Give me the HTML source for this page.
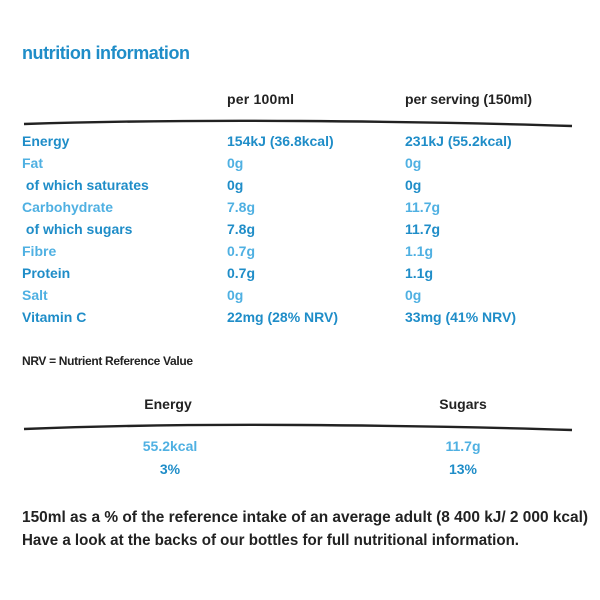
<!DOCTYPE html>
<html><head><meta charset="utf-8"><style>
body{margin:0;background:#fff}
svg{display:block}
text{font-family:"Liberation Sans",sans-serif;font-weight:bold}
.d{fill:#1f8dc8}.l{fill:#4fb0e2}.k{fill:#222}
</style></head><body>
<svg width="600" height="600" viewBox="0 0 600 600">
<text x="22" y="59" font-size="18" class="d" textLength="168">nutrition information</text>
<text x="227" y="104" font-size="14" class="k" textLength="67">per 100ml</text>
<text x="405" y="104" font-size="14" class="k" textLength="127">per serving (150ml)</text>
<path d="M24 124 Q150 120 300 121 T572 126" stroke="#222" stroke-width="2.4" fill="none"/>
<g id="rows"></g>
<text x="22" y="365" font-size="12" class="k" textLength="171">NRV = Nutrient Reference Value</text>
<text x="168" y="409" font-size="14" class="k" text-anchor="middle">Energy</text>
<text x="463" y="409" font-size="14" class="k" text-anchor="middle">Sugars</text>
<path d="M24 429 Q150 424 300 425 T572 430" stroke="#222" stroke-width="2.4" fill="none"/>
<text x="170" y="451" font-size="14" class="l" text-anchor="middle">55.2kcal</text>
<text x="170" y="474" font-size="14" class="d" text-anchor="middle">3%</text>
<text x="463" y="451" font-size="14" class="l" text-anchor="middle">11.7g</text>
<text x="463" y="474" font-size="14" class="d" text-anchor="middle">13%</text>
<text x="22" y="522" font-size="15.5" class="k" textLength="566" lengthAdjust="spacingAndGlyphs">150ml as a % of the reference intake of an average adult (8 400 kJ/ 2 000 kcal)</text>
<text x="22" y="545" font-size="15.5" class="k" textLength="497" lengthAdjust="spacingAndGlyphs">Have a look at the backs of our bottles for full nutritional information.</text>
</svg>
<script>
const labels=["Energy","Fat"," of which saturates","Carbohydrate"," of which sugars","Fibre","Protein","Salt","Vitamin C"];
const per100=["154kJ (36.8kcal)","0g","0g","7.8g","7.8g","0.7g","0.7g","0g","22mg (28% NRV)"];
const perServing=["231kJ (55.2kcal)","0g","0g","11.7g","11.7g","1.1g","1.1g","0g","33mg (41% NRV)"];
const g=document.getElementById('rows');
const NS="http://www.w3.org/2000/svg";
labels.forEach((lab,i)=>{
  const y=146+i*22;
  const cls=i%2===0?'d':'l';
  [[22,lab,'label'],[227,per100[i],'per100'],[405,perServing[i],'serving']].forEach(([x,t,n])=>{
    const el=document.createElementNS(NS,'text');
    el.setAttribute('x',x);el.setAttribute('y',y);el.setAttribute('font-size','14');
    el.setAttribute('class',cls);
    el.style.whiteSpace='pre';
    el.textContent=t;
    
    
    g.appendChild(el);
  });
});
</script>
</body></html>
